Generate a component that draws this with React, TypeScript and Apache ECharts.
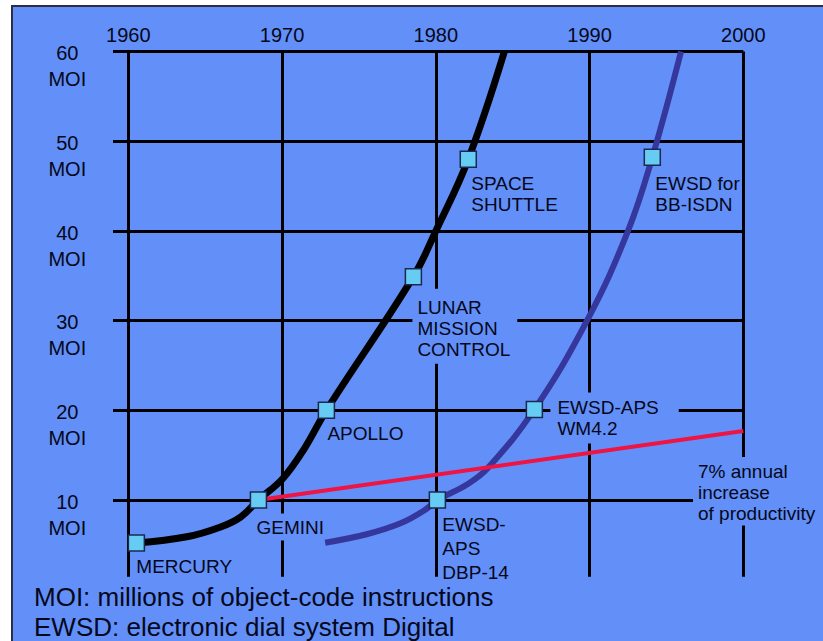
import React, { useEffect, useRef } from "react";
import * as echarts from "echarts";

// ---- axis ticks ----
const xTickYears = [1960, 1970, 1980, 1990, 2000];
const yTickValues = [10, 20, 30, 40, 50, 60];
const yUnit = "MOI";

// ---- curves (year, MOI) ----
const spaceYears = [1960.52, 1963.8, 1966.0, 1967.3, 1968.46, 1970.05, 1971.4, 1972.88, 1978.54, 1980.0, 1982.11, 1984.46];
const spaceMoi = [5.2, 5.9, 7.0, 8.1, 10.0, 12.4, 15.6, 20.0, 34.9, 40.0, 48.0, 60.0];
const ewsdYears = [1972.8, 1975.5, 1977.7, 1979.3, 1980.1, 1982.0, 1983.4, 1986.41, 1989.85, 1992.5, 1994.08, 1995.95];
const ewsdMoi = [5.24, 6.18, 7.4, 8.9, 10.0, 11.7, 13.6, 20.1, 30.05, 40.0, 48.2, 60.0];
const productivityYears = [1968.46, 2000];
const productivityMoi = [10.0, 17.7];

// ---- milestones ----
const milestoneNames = [
  "MERCURY",
  "GEMINI",
  "APOLLO",
  "LUNAR\nMISSION\nCONTROL",
  "SPACE\nSHUTTLE",
  "EWSD-\nAPS\nDBP-14",
  "EWSD-APS\nWM4.2",
  "EWSD for\nBB-ISDN",
];
const milestoneYears = [1960.52, 1968.46, 1972.88, 1978.54, 1982.11, 1980.1, 1986.41, 1994.08];
const milestoneMoi = [5.2, 10.0, 20.0, 34.9, 48.0, 10.0, 20.1, 48.2];

const productivityNote = "7% annual\nincrease\nof productivity";
const footnotes = ["MOI: millions of object-code instructions", "EWSD: electronic dial system Digital"];

// ---- styling / layout (kept separate from data) ----
const FONT = '"Liberation Sans", Arial, Helvetica, sans-serif';
const BG = "#6290f8";
const LABEL_BG = BG;
const TEXT = "#05071a";
const MARKER = 16;

type LabelLayout = {
  dx: number;
  dy: number;
  lineHeight: number;
  padding?: number[];
  bg?: boolean;
};

const milestoneLabelLayout: LabelLayout[] = [
  { dx: 8, dy: 21, lineHeight: 21 },
  { dx: 2, dy: 21.5, lineHeight: 21, padding: [3, 4, 3, 4], bg: true },
  { dx: 9, dy: 20.5, lineHeight: 21 },
  { dx: 7, dy: 20, lineHeight: 21, padding: [8.5, 7, 3.5, 5], bg: true },
  { dx: 11, dy: 21.5, lineHeight: 21 },
  { dx: 13, dy: 20, lineHeight: 24 },
  { dx: 24, dy: -9, lineHeight: 21, padding: [4.5, 20, 4.5, 7], bg: true },
  { dx: 11, dy: 23.5, lineHeight: 21 },
];
const noteLayout: LabelLayout = { dx: -42.3, dy: 34, lineHeight: 21, padding: [4.5, 5, 1, 5], bg: true };

function zipPoints(xs: number[], ys: number[]) {
  return xs.map((x, i) => [x, ys[i]]);
}

function labelItem(x: number, y: number, text: string, l: LabelLayout) {
  return {
    value: [x, y],
    label: {
      show: true,
      formatter: text,
      position: [l.dx, l.dy],
      align: "left",
      verticalAlign: "top",
      lineHeight: l.lineHeight,
      fontSize: 19,
      fontFamily: FONT,
      color: TEXT,
      padding: l.padding || 0,
      backgroundColor: l.bg ? LABEL_BG : "transparent",
    },
  };
}

export default function App() {
  const ref = useRef<HTMLDivElement>(null);

  useEffect(() => {
    if (!ref.current) return;
    const chart = echarts.init(ref.current, undefined, { renderer: "svg" });

    const labelData = milestoneNames.map((n, i) =>
      labelItem(milestoneYears[i], milestoneMoi[i], n, milestoneLabelLayout[i])
    );
    labelData.push(
      labelItem(
        productivityYears[productivityYears.length - 1],
        productivityMoi[productivityMoi.length - 1],
        productivityNote,
        noteLayout
      )
    );

    const option: any = {
      animation: false,
      backgroundColor: "transparent",
      textStyle: { fontFamily: FONT },
      grid: { left: 113, right: 79.7, top: 51.5, bottom: 64.3, containLabel: false },
      xAxis: {
        type: "value",
        position: "top",
        min: 1959,
        max: 2000,
        splitNumber: 4,
        axisLine: { show: false },
        axisTick: { show: false },
        axisLabel: {
          showMinLabel: false,
          fontSize: 20,
          fontFamily: FONT,
          color: TEXT,
          margin: 7,
          lineHeight: 20,
          formatter: (v: number) => (xTickYears.includes(v) ? String(v) : ""),
        },
        splitLine: { show: true, showMinLine: false, lineStyle: { color: "#000", width: 3 } },
      },
      yAxis: {
        type: "value",
        min: 1.45,
        max: 60,
        splitNumber: 5,
        axisLine: { show: false },
        axisTick: { show: false },
        axisLabel: {
          showMinLabel: false,
          fontSize: 20,
          fontFamily: FONT,
          color: TEXT,
          align: "center",
          verticalAlign: "middle",
          margin: 45.7,
          formatter: (v: number) => (yTickValues.includes(v) ? `{s| }\n{a|${v}}\n{a|${yUnit}}` : ""),
          rich: {
            s: { lineHeight: 29.6, fontSize: 10 },
            a: { lineHeight: 26, fontSize: 20, fontFamily: FONT, color: TEXT },
          },
        },
        splitLine: { show: true, showMinLine: false, lineStyle: { color: "#000", width: 3 } },
      },
      graphic: footnotes.map((t, i) => ({
        type: "text",
        x: 34,
        y: 597 + i * 30,
        style: {
          text: t,
          fontSize: 26,
          fontFamily: FONT,
          fill: TEXT,
          align: "left",
          verticalAlign: "middle",
        },
      })),
      series: [
        {
          type: "scatter",
          name: "labels",
          z: 1,
          symbol: "rect",
          symbolSize: MARKER,
          itemStyle: { color: "rgba(0,0,0,0)", opacity: 1 },
          silent: true,
          data: labelData,
        },
        {
          type: "line",
          name: "space",
          z: 2,
          data: zipPoints(spaceYears, spaceMoi),
          smooth: 0.4,
          showSymbol: false,
          symbol: "none",
          lineStyle: { color: "#000000", width: 7 },
        },
        {
          type: "line",
          name: "ewsd",
          z: 2,
          data: zipPoints(ewsdYears, ewsdMoi),
          smooth: 0.4,
          showSymbol: false,
          symbol: "none",
          lineStyle: { color: "#36379c", width: 6 },
        },
        {
          type: "line",
          name: "productivity",
          z: 2,
          data: zipPoints(productivityYears, productivityMoi),
          showSymbol: false,
          symbol: "none",
          lineStyle: { color: "#ee1444", width: 4 },
        },
        {
          type: "scatter",
          name: "milestones",
          z: 3,
          symbol: "rect",
          symbolSize: MARKER,
          itemStyle: { color: "#66ccf4", borderColor: "#1c2850", borderWidth: 1.5, opacity: 1 },
          data: zipPoints(milestoneYears, milestoneMoi),
        },
      ],
    };

    chart.setOption(option);
    return () => chart.dispose();
  }, []);

  return (
    <div style={{ position: "fixed", left: 0, top: 0, width: 823, height: 641, background: "#ffffff", overflow: "hidden" }}>
      <div
        style={{
          position: "absolute",
          left: 11,
          top: 5,
          right: 0,
          bottom: 0,
          background: BG,
          borderTop: "2px solid #2c2f40",
          borderLeft: "2px solid #2c2f40",
        }}
      />
      <div ref={ref} style={{ position: "absolute", left: 0, top: 0, width: 823, height: 641 }} />
    </div>
  );
}
